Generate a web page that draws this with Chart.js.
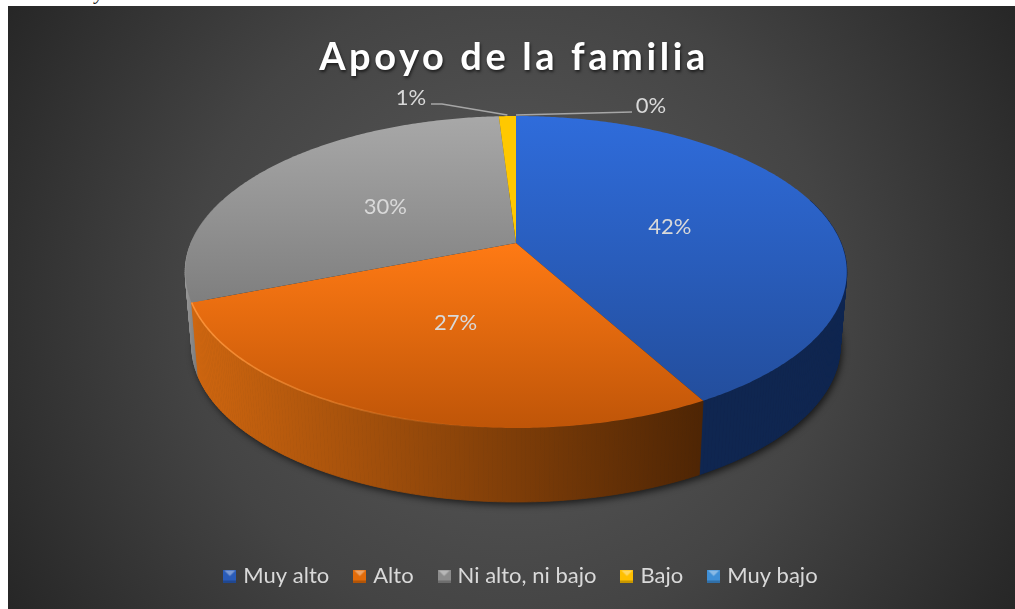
<!DOCTYPE html>
<html>
<head>
<meta charset="utf-8">
<style>
html,body{margin:0;padding:0;background:#fff;width:1015px;height:609px;overflow:hidden}
#wrap{position:absolute;left:0;top:0;width:1015px;height:609px}
#frag{position:absolute;left:95px;top:-19px;font:italic 20px "Liberation Serif";color:#222}
</style>
<script src="https://cdn.jsdelivr.net/npm/chart.js@4/dist/chart.umd.min.js"></script>
</head>
<body>
<div id="frag">y</div>
<div id="wrap"><canvas id="c" width="1015" height="609"></canvas></div>
<script>
const categories = ["Muy alto", "Alto", "Ni alto, ni bajo", "Bajo", "Muy bajo"];
const values = [42, 27, 30, 1, 0];
const valueLabels = ["42%", "27%", "30%", "1%", "0%"];
const chartTitle = "Apoyo de la familia";
const legendColors = ["#2a5cb8", "#e36c0a", "#8c8c8c", "#ffc000", "#3f8fd6"];

const P = {cx:516, cy:243, b:105.4, c:-0.186, k:325, depth:74, bottomScale:0.98};
function proj(a, r, bottom){
  const u = Math.cos(a)*r, v = Math.sin(a)*r, d = 1 + P.c*v;
  const s = bottom ? P.bottomScale : 1;
  return [P.cx + s*P.k*u/d, (P.cy + P.b*v)/d + (bottom ? P.depth : 0)];
}
function rim(ctx, a0, a1, bottom, move){
  const n = Math.max(2, Math.ceil(Math.abs(a1-a0)/0.01));
  for(let i=0;i<=n;i++){
    const p = proj(a0+(a1-a0)*i/n, 1, bottom);
    (i===0 && move) ? ctx.moveTo(p[0],p[1]) : ctx.lineTo(p[0],p[1]);
  }
}
function band(ctx, a0, a1, fill){
  a0=Math.max(a0,-0.3); a1=Math.min(a1,Math.PI+0.3);
  if(a1<=a0) return;
  const n = Math.max(1, Math.ceil((a1-a0)/0.012));
  ctx.fillStyle=fill;ctx.strokeStyle=fill;ctx.lineWidth=0.8;
  for(let i=0;i<n;i++){
    const s=a0+(a1-a0)*i/n, e=a0+(a1-a0)*(i+1)/n;
    const p=[proj(s,1,false),proj(e,1,false),proj(e,1,true),proj(s,1,true)];
    ctx.beginPath();ctx.moveTo(p[0][0],p[0][1]);
    for(let j=1;j<4;j++)ctx.lineTo(p[j][0],p[j][1]);
    ctx.closePath();ctx.fill();ctx.stroke();
  }
}
function lin(ctx,x0,y0,x1,y1,c0,c1){const g=ctx.createLinearGradient(x0,y0,x1,y1);g.addColorStop(0,c0);g.addColorStop(1,c1);return g;}

function bevel(col){
  const s=13, o=document.createElement('canvas'); o.width=s;o.height=s;
  const x=o.getContext('2d');
  x.fillStyle=col;x.fillRect(0,0,s,s);
  x.fillStyle='rgba(255,255,255,.38)';x.beginPath();x.moveTo(1,1);x.lineTo(s-1,1);x.lineTo(s/2,s/2);x.closePath();x.fill();
  x.fillStyle='rgba(0,0,0,.22)';x.fillRect(0,s-2,s,2);
  return o;
}
const markers = legendColors.map(bevel);

const pie3d = {
  id:'pie3d',
  beforeDraw(chart){
    const ctx=chart.ctx;
    ctx.save();
    const g=ctx.createRadialGradient(511,305,0,511,305,590);
    g.addColorStop(0,'#5c5c5c');g.addColorStop(0.55,'#444444');g.addColorStop(1,'#262626');
    ctx.fillStyle=g;ctx.fillRect(8,6,1007,603);
    ctx.restore();
    const tb=chart.titleBlock;
    if(tb && !tb._wrapped){
      const d=tb.draw.bind(tb);
      tb.draw=function(){
        ctx.save();
        ctx.translate(-8.5,0);
        ctx.letterSpacing='3.6px';
        ctx.shadowColor='rgba(0,0,0,.6)';ctx.shadowBlur=3;ctx.shadowOffsetX=1;ctx.shadowOffsetY=2;
        d();
        ctx.restore();
      };
      tb._wrapped=true;
    }
  },
  beforeDatasetDraw(chart,args){
    const ctx=chart.ctx, arcs=args.meta.data;
    ctx.save();
    // silhouette shadow
    ctx.save();
    ctx.shadowColor='rgba(0,0,0,.65)';ctx.shadowBlur=7;ctx.shadowOffsetX=2;ctx.shadowOffsetY=3;
    ctx.fillStyle='#222';ctx.beginPath();rim(ctx,0,Math.PI*2,true,true);ctx.closePath();ctx.fill();
    ctx.restore();
    const sideFill=[
      '#0f2650',
      lin(ctx,193,0,702,0,'#cf660f','#4e2504'),
      lin(ctx,185,0,205,0,'#9a9a9a','#666666'),
      '#a88000','#1c4f80'];
    const topFill=[
      lin(ctx,0,116,0,400,'#2f6cdb','#234e9d'),
      lin(ctx,0,243,0,428,'#ff7a14','#bf5508'),
      lin(ctx,0,116,0,305,'#a8a8a8','#7e7e7e'),
      '#ffc800','#3f8fd6'];
    [2,3,0,4,1].forEach(i=>{
      const e=arcs[i]; if(e.endAngle-e.startAngle<1e-6) return;
      band(ctx,e.startAngle,e.endAngle,sideFill[i]);
    });
    arcs.forEach((e,i)=>{
      if(e.endAngle-e.startAngle<1e-6) return;
      ctx.fillStyle=topFill[i];
      ctx.beginPath();
      ctx.moveTo(P.cx,P.cy);
      rim(ctx,e.startAngle,e.endAngle,false,false);
      ctx.closePath();ctx.fill();
    });
    // bright rim on the front of the orange slice, fading to the right
    const rg=ctx.createLinearGradient(193,0,480,0);
    rg.addColorStop(0,'rgba(255,150,60,.9)');rg.addColorStop(1,'rgba(255,150,60,0)');
    ctx.strokeStyle=rg;ctx.lineWidth=1.6;
    ctx.beginPath();rim(ctx,arcs[1].startAngle+0.4,arcs[1].endAngle,false,true);ctx.stroke();
    // leaders
    ctx.strokeStyle='#a6a6a6';ctx.lineWidth=1.5;
    const r3=proj((arcs[3].startAngle+arcs[3].endAngle)/2,1,false);
    const r4=proj(arcs[4].startAngle,1,false);
    ctx.beginPath();ctx.moveTo(431,104);ctx.lineTo(442,104);ctx.lineTo(r3[0]+0,r3[1]-1);ctx.stroke();
    ctx.beginPath();ctx.moveTo(r4[0],r4[1]-1);ctx.lineTo(632,112);ctx.stroke();
    // labels
    ctx.fillStyle='#d9d9d9';ctx.font='22px Lato';ctx.textAlign='center';ctx.textBaseline='middle';
    valueLabels.forEach((t,i)=>{
      const e=arcs[i];let x,y;
      if(i===3){x=411;y=98;}
      else if(i===4){x=651;y=106;}
      else{const p=proj((e.startAngle+e.endAngle)/2,0.5,false);x=p[0];y=p[1]+2;}
      ctx.fillText(t,x,y);
    });
    ctx.restore();
    return false;
  }
};

new Chart(document.getElementById('c'),{
  type:'pie',
  data:{labels:categories,datasets:[{data:values,backgroundColor:legendColors,borderWidth:0}]},
  plugins:[pie3d],
  options:{
    responsive:false,animation:false,
    layout:{padding:{left:30,top:20,bottom:12,right:0}},
    plugins:{
      tooltip:{enabled:false},
      title:{display:true,text:chartTitle,color:'#ffffff',font:{family:'Lato',size:38,weight:'bold'},padding:{top:15,bottom:10}},
      legend:{position:'bottom',labels:{
        color:'#d9d9d9',font:{family:'Lato',size:22},usePointStyle:true,boxWidth:5,boxHeight:13,padding:28,
        generateLabels(chart){
          return categories.map((t,i)=>({text:t,fillStyle:legendColors[i],strokeStyle:legendColors[i],lineWidth:0,pointStyle:markers[i],fontColor:'#d9d9d9',hidden:false,index:i}));
        }
      }}
    }
  }
});
</script>
</body>
</html>
